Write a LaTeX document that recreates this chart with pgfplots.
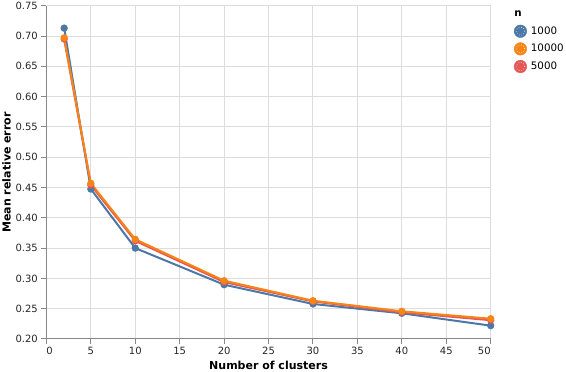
\documentclass[border=0pt]{standalone}
\usepackage{fontspec}
\setmainfont{DejaVu Sans}
\usepackage{pgfplots}
\pgfplotsset{compat=1.18}
\definecolor{cblue}{HTML}{4C78A8}
\definecolor{corange}{HTML}{F58518}
\definecolor{cred}{HTML}{E45756}
\definecolor{gridc}{HTML}{DDDDDD}
\definecolor{axc}{HTML}{888888}
\pgfplotsset{
  legcirc/.style={legend image code/.code={
    \fill[#1] (0.3cm,0cm) circle (6.3pt);
    \draw[white, dotted, line width=0.6pt] (0.3cm,0cm) circle (4.3pt);
  }}
}
\begin{document}
\begin{tikzpicture}
\begin{axis}[
  scale only axis,
  width=444.3pt, height=333.3pt,
  xmin=0, xmax=50, ymin=0.2, ymax=0.75,
  xtick={0,5,10,15,20,25,30,35,40,45,50},
  xticklabels={\makebox[0pt][l]{0},5,10,15,20,25,30,35,40,45,\makebox[0pt][r]{50}},
  ytick={0.20,0.25,...,0.76},
  axis x line*=bottom, axis y line*=left,
  axis line style={axc, line width=1pt, -},
  major tick length=5pt,
  tick style={axc, line width=1pt},
  tick align=outside,
  grid=major,
  major grid style={gridc, line width=1pt},
  /pgf/number format/assume math mode=true,
  ticklabel style={font=\fontsize{10}{12}\selectfont, text=black!85},
  yticklabel style={/pgf/number format/.cd, fixed, fixed zerofill, precision=2},
  xlabel={\textbf{Number of clusters}},
  ylabel={\textbf{Mean relative error}},
  label style={font=\fontsize{11}{13}\selectfont},
  xlabel style={yshift=0.5pt},
  ylabel style={yshift=-2pt},
  clip=false,
  legend style={at={(1,1)}, anchor=north west, xshift=18pt, yshift=-1pt, draw=none, fill=none,
    font=\fontsize{10.3}{12}\selectfont, row sep=4.5pt, cells={anchor=west},
    every legend entry/.append style={}},
  legend cell align=left,
]
\addlegendimage{empty legend}
\addlegendentry{\hspace{-19pt}\textbf{n}}
\addlegendimage{legcirc=cblue}
\addlegendentry{\hspace{2pt}1000}
\addlegendimage{legcirc=corange}
\addlegendentry{\hspace{2pt}10000}
\addlegendimage{legcirc=cred}
\addlegendentry{\hspace{2pt}5000}

\addplot[forget plot, cblue, line width=2pt, mark=*, mark size=2.6pt, mark options={fill=cblue}] coordinates {
(2,0.713) (5,0.4475) (10,0.350) (20,0.2896) (30,0.2578) (40,0.2424) (50,0.222)};
\addplot[forget plot, cred, line width=2pt, mark=*, mark size=2.6pt, mark options={fill=cred}] coordinates {
(2,0.695) (5,0.454) (10,0.362) (20,0.294) (30,0.262) (40,0.244) (50,0.231)};
\addplot[forget plot, corange, line width=2pt, mark=*, mark size=2.6pt, mark options={fill=corange}] coordinates {
(2,0.697) (5,0.457) (10,0.3645) (20,0.2962) (30,0.2632) (40,0.2457) (50,0.2335)};
\end{axis}
\pgfresetboundingbox
\path (-46.4pt,-33pt) rectangle (519.6pt,339pt);
\end{tikzpicture}
\end{document}
